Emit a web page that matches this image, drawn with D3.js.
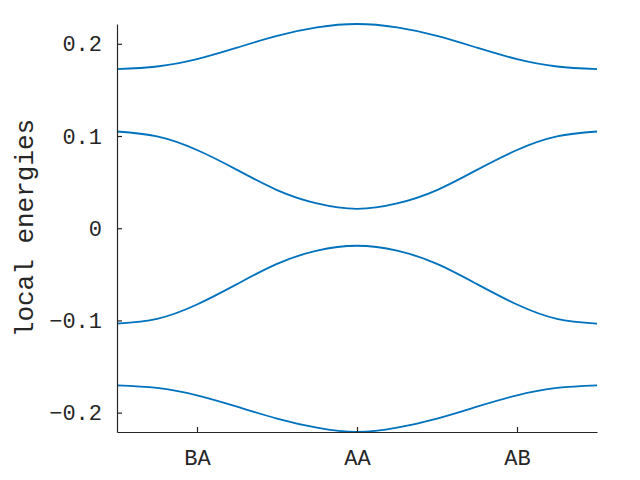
<!DOCTYPE html>
<html>
<head>
<meta charset="utf-8">
<script src="https://cdn.jsdelivr.net/npm/d3@7"></script>
<style>
  body { margin: 0; background: #fff; }
  svg text { font-family: "Courier New", Courier, "Liberation Mono", monospace; fill: #262626; }
</style>
</head>
<body>
<svg id="chart" width="640" height="480"></svg>
<script>
const SIZE = { width: 640, height: 480 };
const MARGIN = { left: 117, right: 43, top: 24, bottom: 48 };
const WIDTH = SIZE.width - (MARGIN.left + MARGIN.right);
const HEIGHT = SIZE.height - (MARGIN.top + MARGIN.bottom);

// path position along the k-path
const kPos = [0, 0.25, 0.5, 0.75, 1, 1.25, 1.5, 1.75, 2, 2.25, 2.5, 2.75, 3];

// four local energy bands
const band1 = [0.1726, 0.1754, 0.1834, 0.1958, 0.2086, 0.2178, 0.2215, 0.2178, 0.2086, 0.1958, 0.1834, 0.1754, 0.1726];
const band2 = [0.1049, 0.0995, 0.0848, 0.0633, 0.0414, 0.0269, 0.0211, 0.0269, 0.0414, 0.0633, 0.0848, 0.0995, 0.1049];
const band3 = [-0.1035, -0.0983, -0.0827, -0.0606, -0.0387, -0.0242, -0.0190, -0.0242, -0.0387, -0.0606, -0.0827, -0.0983, -0.1035];
const band4 = [-0.1704, -0.1732, -0.1812, -0.1935, -0.2064, -0.2163, -0.2210, -0.2163, -0.2064, -0.1935, -0.1812, -0.1732, -0.1704];

const xTickPos = [0.5, 1.5, 2.5];
const xTickLabels = ["BA", "AA", "AB"];
const yTicks = [-0.2, -0.1, 0, 0.1, 0.2];

const bands = [band1, band2, band3, band4];

const svg = d3.select("#chart");
const g = svg.append("g").attr("transform", `translate(${MARGIN.left},${MARGIN.top})`);

const x = d3.scaleLinear().domain(d3.extent(kPos)).range([0, WIDTH]);
const y = d3.scaleLinear().domain(d3.extent(bands.flat())).range([HEIGHT, 0]);

const line = d3.line()
  .x((d, i) => x(kPos[i]))
  .y(d => y(d))
  .curve(d3.curveNatural);

g.selectAll(".band")
  .data(bands)
  .enter()
  .append("path")
  .attr("class", "band")
  .attr("d", line)
  .attr("fill", "none")
  .attr("stroke", "#0072BD")
  .attr("stroke-width", 1.8);

const xAxis = d3.axisBottom(x)
  .tickValues(xTickPos)
  .tickFormat((d, i) => xTickLabels[i])
  .tickSizeInner(-5)
  .tickSizeOuter(0)
  .tickPadding(17);

const yAxis = d3.axisLeft(y)
  .tickValues(yTicks)
  .tickFormat(d => d === 0 ? "0" : d3.format(".1f")(d).replace("-", "\u2212"))
  .tickSizeInner(-5)
  .tickSizeOuter(0)
  .tickPadding(15);

const gx = g.append("g")
  .attr("transform", `translate(0,${HEIGHT})`)
  .call(xAxis);

const gy = g.append("g").call(yAxis);

[gx, gy].forEach(a => {
  a.select(".domain").attr("stroke", "#262626").attr("stroke-width", 1.2);
  a.selectAll(".tick line").attr("stroke", "#262626").attr("stroke-width", 1.2);
  a.selectAll(".tick text").attr("font-size", 22).attr("fill", "#262626");
});

g.append("text")
  .attr("transform", "rotate(-90)")
  .attr("x", -HEIGHT / 2)
  .attr("y", -84)
  .attr("text-anchor", "middle")
  .attr("font-size", 26)
  .text("local energies");
</script>
</body>
</html>
